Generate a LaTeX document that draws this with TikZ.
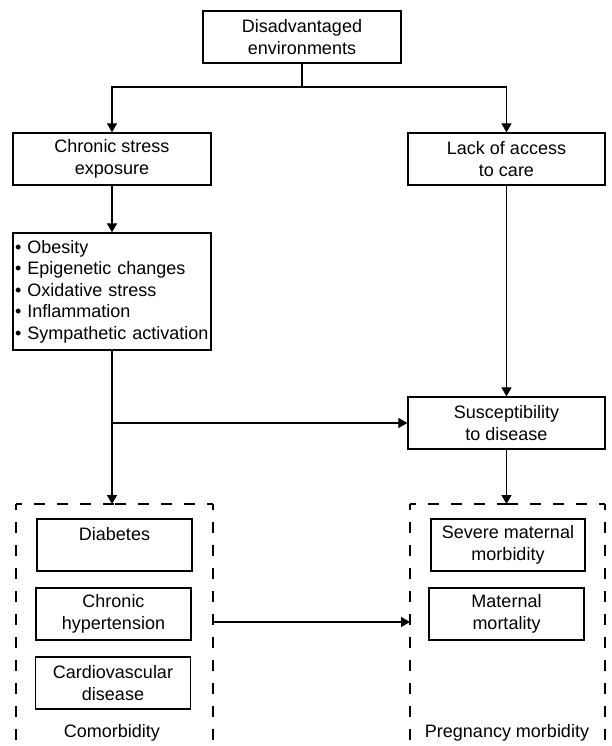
\documentclass[tikz,border=0pt]{standalone}
\usepackage{fontspec}
\setmainfont{Liberation Sans}
\usetikzlibrary{arrows.meta}
\begin{document}
\begin{tikzpicture}[x=1pt,y=-1pt,
  line width=1.2pt,
  box/.style={draw, line width=1.3pt, align=center, inner sep=0pt,
    font=\fontsize{18}{21.5}\selectfont},
  bigbox/.style={box, minimum width=198pt, minimum height=52pt},
  smallbox/.style={box, minimum width=155pt, minimum height=52pt},
  arr/.style={-{Triangle[width=10pt,length=9pt]}},
  dashbox/.style={dash pattern=on 11pt off 12pt, dash phase=5pt, line width=1.2pt},
  lbl/.style={font=\fontsize{18}{21.5}\selectfont, inner sep=0pt}
]
\useasboundingbox (0,0) rectangle (611,746);

\node[bigbox] (top) at (302,37) {Disadvantaged\\environments};
\node[bigbox] (chronic) at (112,159) {Chronic stress\\exposure};
\node[bigbox, minimum width=197pt] (lack) at (506.5,159) {Lack of access\\to care};
\node[box, minimum height=117pt, text width=194pt, inner xsep=2pt, align=left] (bullets) at (112,291.5)
  {• Obesity\\• Epigenetic changes\\• Oxidative stress\\• Inflammation\\• Sympathetic activation};
\node[bigbox, minimum width=197pt] (susc) at (506.5,423) {Susceptibility\\to disease};

% dashed groups
\draw[dashbox] (16,504) -- (16,746);
\draw[dashbox] (16,504) -- (114.5,504);
\draw[dashbox] (213,504) -- (114.5,504);
\draw[dashbox] (213,504) -- (213,746);
\draw[dashbox] (410,504) -- (410,746);
\draw[dashbox] (410,504) -- (507.5,504);
\draw[dashbox] (605,504) -- (507.5,504);
\draw[dashbox] (605,504) -- (605,746);
\coordinate (cdtop) at (112,504);
\coordinate (pdtop) at (506.5,504);
\coordinate (cdR) at (213,622);
\coordinate (pdL) at (410,622);

\node[smallbox] (diab) at (114.5,545) {Diabetes\\\mbox{}};
\node[smallbox] (chyp) at (113.5,614) {Chronic\\hypertension};
\node[smallbox] (cvd) at (113,683) {Cardiovascular\\disease};
\node[smallbox, minimum width=154pt] (sev) at (508,545) {Severe maternal\\morbidity};
\node[smallbox] (mort) at (506.5,614) {Maternal\\mortality};

\node[lbl] (comorb) at (112,733) {Comorbidity};
\node[lbl] (preg) at (507,733) {Pregnancy morbidity};

% connectors
\coordinate (j) at (302,87);
\draw (top.south) -- (j);
\draw[arr] (j) -| (chronic.north);
\draw[arr] (j) -| (lack.north);
\draw[arr] (chronic.south) -- (bullets.north);
\draw[arr] (lack.south) -- (susc.north);
\draw[arr] (bullets.south) -- (cdtop);
\draw[arr] (bullets.south |- susc.west) -- (susc.west);
\draw[arr] (susc.south) -- (pdtop);
\draw[arr] (cdR) -- (pdL);
\end{tikzpicture}
\end{document}
